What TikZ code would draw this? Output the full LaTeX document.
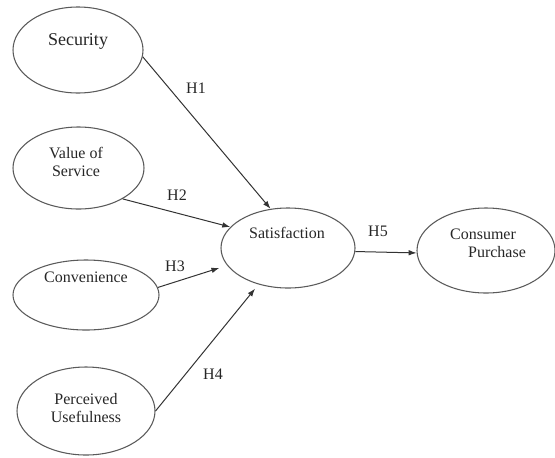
\documentclass[tikz,border=0pt]{standalone}
\usepackage{fontspec}
\setmainfont{Liberation Serif}
\usetikzlibrary{shapes.geometric,arrows.meta}
\definecolor{ellgray}{HTML}{5A5A5A}
\definecolor{arrcol}{HTML}{333333}
\definecolor{txtcol}{HTML}{262626}
\begin{document}
\begin{tikzpicture}[x=0.75pt,y=-0.75pt,
  oval/.style={ellipse,draw=ellgray,line width=0.8pt,inner sep=0pt},
  txt/.style={text=txtcol,font=\fontsize{12}{13.5}\selectfont,align=center,inner sep=0pt},
  hyp/.style={text=txtcol,font=\fontsize{12}{13.5}\selectfont,inner sep=0pt},
  link/.style={draw=arrcol,line width=0.75pt,-{Latex[length=6pt,width=4.2pt]}}]
\useasboundingbox (0,0) rectangle (555,457);

% ellipses
\node[oval,minimum width=97.5pt,minimum height=64.5pt] (sec) at (78,50) {};
\node[oval,minimum width=98.25pt,minimum height=61.5pt] (val) at (78.5,168) {};
\node[oval,minimum width=109.5pt,minimum height=52.5pt] (conv) at (86,295) {};
\node[oval,minimum width=103.5pt,minimum height=66pt] (perc) at (86,411) {};
\node[oval,minimum width=100.5pt,minimum height=60pt] (sat) at (288,248) {};
\node[oval,minimum width=103.5pt,minimum height=63.75pt] (cons) at (486,250.5) {};

% texts
\node[txt,font=\fontsize{13.5}{15}\selectfont] (secT) at (78,41) {Security};
\node[txt] (valT) at (76,162) {Value of\\Service};
\node[txt] (convT) at (86,277) {Convenience};
\node[txt] (percT) at (86,408.5) {Perceived\\Usefulness};
\node[txt] (satT) at (287,233) {Satisfaction};
\node[txt,align=left] (consT) at (488,243.5) {Consumer\\\hspace*{13.5pt}Purchase};

% connectors
\draw[link] (sec.-6) -- (sat.114);
\draw[link] (val.-35) -- (sat.160);
\draw[link,shorten >=6pt] (conv.6) -- (sat.196);
\draw[link,shorten >=4pt] (perc.0) -- (sat.231);
\draw[link] (sat.-3) -- (cons.182);

% hypothesis labels
\node[hyp] (h1) at (196,88) {H1};
\node[hyp] (h2) at (177,195) {H2};
\node[hyp] (h3) at (175,266) {H3};
\node[hyp] (h4) at (213,374) {H4};
\node[hyp] (h5) at (378,231) {H5};
\end{tikzpicture}
\end{document}
